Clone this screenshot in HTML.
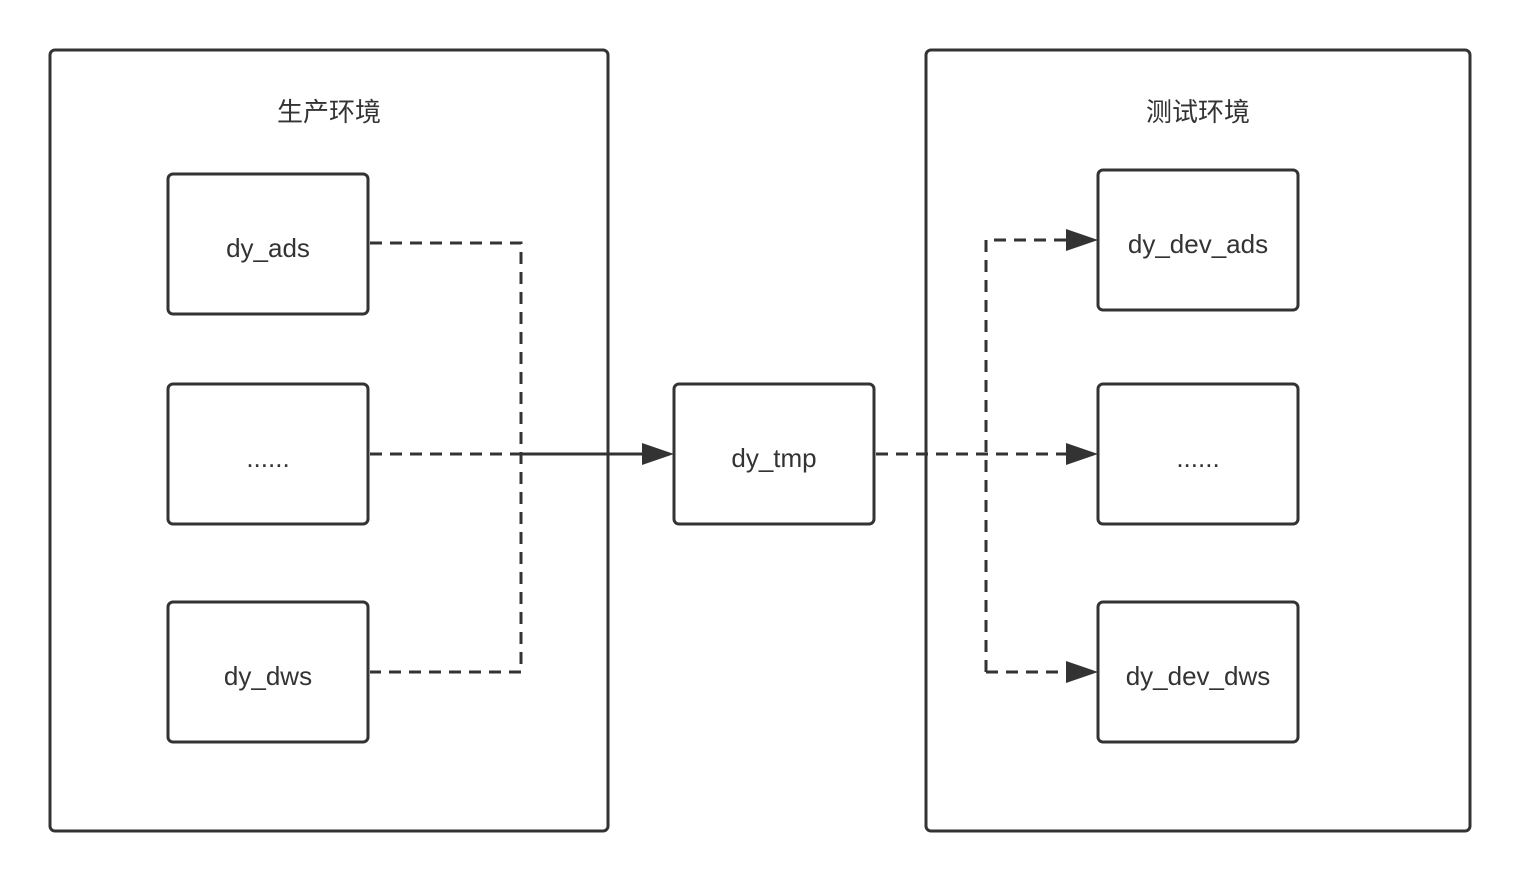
<!DOCTYPE html>
<html><head><meta charset="utf-8"><style>
html,body{margin:0;padding:0;background:#fff;}
text{font-family:"Liberation Sans","Noto Sans CJK SC",sans-serif;fill:#333;font-size:26px;}
</style></head><body>
<svg width="1520" height="882" viewBox="0 0 1520 882" xmlns="http://www.w3.org/2000/svg">
<g fill="none" stroke="#333" stroke-width="3">
<rect x="50" y="50" width="558" height="781" rx="5"/>
<rect x="926" y="50" width="544" height="781" rx="5"/>
<rect x="168" y="174" width="200" height="140" rx="5"/>
<rect x="168" y="384" width="200" height="140" rx="5"/>
<rect x="168" y="602" width="200" height="140" rx="5"/>
<rect x="674" y="384" width="200" height="140" rx="5"/>
<rect x="1098" y="170" width="200" height="140" rx="5"/>
<rect x="1098" y="384" width="200" height="140" rx="5"/>
<rect x="1098" y="602" width="200" height="140" rx="5"/>
<g stroke-dasharray="12 8">
<path d="M370 243 H521 V672 H370"/>
<path d="M370 454 H521"/>
<path d="M876 454 H1066"/>
<path d="M986 672 V240 H1066"/>
<path d="M986 672 H1066"/>
</g>
<path d="M521 454 H644"/>
</g>
<g fill="#333">
<polygon points="642,443 674,454 642,465"/>
<polygon points="1066,229 1098,240 1066,251"/>
<polygon points="1066,443 1098,454 1066,465"/>
<polygon points="1066,661 1098,672 1066,683"/>
</g>
<g text-anchor="middle">
<text x="329" y="121">生产环境</text>
<text x="1198" y="121">测试环境</text>
<text x="268" y="257">dy_ads</text>
<text x="268" y="467">......</text>
<text x="268" y="685">dy_dws</text>
<text x="774" y="467">dy_tmp</text>
<text x="1198" y="253">dy_dev_ads</text>
<text x="1198" y="467">......</text>
<text x="1198" y="685">dy_dev_dws</text>
</g>
</svg>
</body></html>
